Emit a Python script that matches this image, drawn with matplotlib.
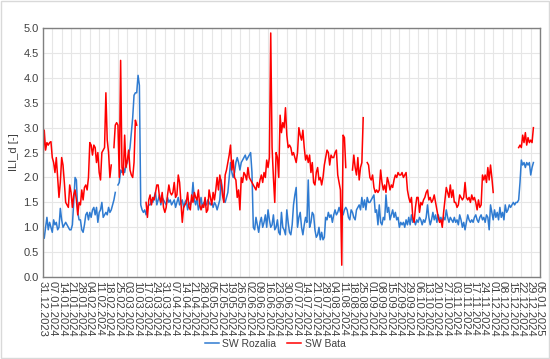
import numpy as np
import pandas as pd
import matplotlib
matplotlib.use("Agg")
import matplotlib.pyplot as plt
import matplotlib.dates as mdates
from matplotlib.patches import Rectangle

nan = np.nan

# daily ILI_d values from 31.12.2023, one row per week
rozalia = [
    0.88, 0.78, 1.0, 1.2, 0.95, 1.1, 1.0,
    0.9, 1.15, 1.05, 1.1, 0.95, 1.0, 1.38,
    1.15, 1.0, 1.05, 1.1, 1.05, 1.0, 0.95,
    0.95, 1.05, 1.5, 2.0, 1.95, 1.3, 1.15,
    1.15, 0.95, 0.9, 1.05, 1.25, 1.3, 1.15,
    1.3, 1.2, 1.35, 1.4, 1.25, 1.4, 1.1,
    1.3, 1.35, 1.5, 1.2, 1.25, 1.3, 1.25,
    1.4, 1.3, 1.35, 1.45, 1.55, 1.7, nan,
    1.85, 1.9, 2.15, 2.1, 2.2, 2.1, 2.25,
    2.3, 2.45, 2.6, 2.9, 3.2, 3.65, 3.7,
    3.7, 4.05, 3.85, 1.45, 1.35, 1.3, 1.35,
    1.25, 1.4, 1.45, 1.45, 1.55, 1.5, 1.6,
    1.7, 1.45, 1.55, 1.65, 1.45, 1.6, 1.55,
    1.5, 1.45, 1.6, 1.5, 1.55, 1.45, 1.5,
    1.55, 1.4, 1.5, 1.6, 1.45, 1.5, 1.55,
    1.4, 1.5, 1.55, 1.35, 1.5, 1.45, 1.55,
    1.9, 1.55, 1.45, 1.6, 1.35, 1.45, 1.6,
    1.4, 1.5, 1.45, 1.45, 1.55, 1.5, 1.45,
    1.5, 1.4, 1.5, 1.45, 1.35, 1.45, 1.55,
    1.95, 1.75, 1.55, 1.5, 1.6, 1.7, 2.0,
    2.3, 2.1, 2.0, 2.1, 2.3, 2.4, 2.3,
    2.15, 2.3, 2.35, 2.4, 2.45, 2.35, 2.4,
    2.45, 2.5, 2.1, 1.0, 0.95, 1.2, 1.05,
    0.9, 1.1, 1.2, 1.0, 1.1, 1.25, 1.0,
    1.35, 1.15, 1.0, 1.05, 1.25, 0.95, 1.0,
    1.15, 0.9, 0.85, 1.3, 1.0, 0.95, 0.85,
    1.35, 1.1, 0.9, 0.85, 1.05, 1.45, 1.65,
    1.8, 1.0, 1.2, 1.3, 1.0, 0.85, 1.05,
    1.2, 1.1, 1.95, 1.0, 1.1, 1.3, 1.25,
    0.95, 0.8, 0.85, 1.0, 0.75, 0.9, 0.75,
    0.8, 1.2, 1.15, 1.3, 1.2, 1.25, 1.1,
    1.25, 1.35, 1.25, 1.3, 1.4, 1.3, 1.35,
    1.25, 1.35, 1.4, 1.35, 1.2, 1.15, 1.35,
    1.3, 1.2, 1.15, 1.35, 1.4, 1.45, 1.35,
    1.6, 1.4, 1.55, 1.35, 1.6, 1.5, 1.5,
    1.55, 1.6, 1.65, 1.3, 1.35, 1.05, 1.45,
    1.1, 1.05, 1.2, 1.15, 1.65, 1.3, 1.4,
    1.15, 1.25, 1.35, 1.2, 1.3, 1.15, 1.2,
    1.0, 1.1, 1.05, 1.1, 1.0, 1.15, 1.05,
    1.2, 1.05, 1.25, 1.1, 1.15, 1.05, 1.15,
    1.1, 1.2, 1.15, 1.05, 1.15, 1.1, 1.2,
    1.45, 1.2, 1.05, 1.15, 1.3, 1.15, 1.25,
    1.1, 1.25, 1.15, 1.2, 1.1, 1.2, 1.15,
    1.35, 1.2, 1.1, 1.2, 1.15, 1.1, 1.2,
    1.1, 1.15, 1.05, 1.25, 1.15, 1.0, 1.1,
    0.95, 1.1, 1.25, 1.15, 1.1, 1.15, 1.1,
    1.2, 1.25, 1.15, 1.1, 1.2, 1.25, 1.15,
    1.2, 1.1, 1.25, 1.2, 0.95, 1.45, 1.3,
    1.15, 1.35, 1.2, 1.3, 1.15, 1.4, 1.2,
    1.3, 1.15, 1.45, 1.3, 1.35, 1.45, 1.4,
    1.45, 1.5, 1.45, 1.5, 1.5, 1.55, 1.9,
    2.35, 2.25, 2.3, 2.2, 2.3, 2.25, 2.3,
    2.05, 2.2, 2.3,
]

bata = [
    2.3, 2.95, 2.55, 2.7, 2.65, 2.7, 2.72,
    2.4, 2.3, 2.1, 2.4, 2.0, 1.6, 1.9,
    2.4, 2.25, 1.9, 1.5, 1.45, 1.4, 1.85,
    1.7, 1.4, 1.65, 1.75, 1.55, 1.25, 1.5,
    1.45, 1.75, 1.55, 1.8, 1.85, 1.75, 2.0,
    2.7, 2.65, 2.45, 2.65, 2.6, 2.3, 2.5,
    2.1, 1.95, 2.5, 2.55, 2.6, 3.7, 2.75,
    2.5, 2.0, 2.25, nan, 2.6, 3.05, 3.1,
    3.05, 2.0, 4.35, 2.2, 2.05, 2.85, 2.2,
    2.35, 2.55, 2.15, 2.05, 2.0, 2.3, 3.15,
    3.05, nan, nan, nan, nan, nan, nan,
    1.5, 1.2, 1.55, 1.65, 1.45, 1.6, 1.55,
    1.7, 1.85, 1.85, 1.6, 1.5, 1.7, 1.4,
    1.3, 1.4, 1.65, 1.85, 1.7, 1.65, 1.7,
    1.9, 1.6, 1.65, 2.05, 1.9, 1.5, 1.1,
    1.4, 1.45, 1.5, 1.7, 1.4, 1.35, 1.65,
    1.5, 1.7, 1.6, 1.55, 1.75, 1.45, 1.35,
    1.45, 1.4, 1.6, 1.3, 1.35, 1.75, 1.6,
    1.45, 1.7, 1.55, 1.75, 2.0, 1.75, 2.05,
    1.9, 1.65, 1.5, 2.05, 2.15, 2.3, 2.45,
    2.65, 2.15, 2.35, 2.0, 1.95, 1.6, 1.75,
    1.35, 2.0, 1.9, 2.1, 2.05, 1.95, 2.2,
    2.0, 1.95, 1.9, 1.85, 1.8, 1.75, 1.9,
    1.8, 1.95, 2.05, 1.9, 2.1, 2.0, 2.35,
    2.2, 2.4, 4.9, 2.6, 2.0, 1.5, 2.5,
    2.4, 2.0, 3.25, 2.9, 3.1, 3.0, 3.4,
    2.85, 2.6, 2.65, 2.6, 2.45, 2.5, 2.4,
    2.3, 2.5, 3.0, 2.85, 2.75, 2.95, 2.6,
    2.35, 2.45, 2.3, 2.45, 2.1, 2.3, 1.9,
    1.85, 2.1, 2.2, 1.95, 2.0, 1.85, 2.0,
    2.25, 2.4, 2.55, 2.5, 2.25, 2.45, 2.4,
    2.4, 2.5, 2.55, 2.05, 1.9, 1.75, 0.24,
    2.85, 2.8, 2.2, nan, nan, nan, nan,
    2.15, 2.45, 2.2, 2.05, 2.4, 1.95, 2.2,
    2.3, 3.2, nan, nan, 2.3, 2.25, 2.0,
    1.95, 2.05, 1.8, 1.7, 1.75, 1.7, 1.75,
    2.15, 1.9, 1.75, 1.85, 1.7, 2.0, 1.9,
    1.75, 1.85, 1.8, 1.95, 2.05, 2.0, 2.1,
    2.05, 2.05, 2.1, 2.0, 2.05, 2.1, 1.75,
    1.6, 1.5, 1.6, 1.2, 1.1, 1.4, 1.6,
    1.6, 1.3, 1.5, 1.45, 1.55, 1.6, 1.7,
    1.75, 1.55, 1.6, 1.5, 1.55, 1.65, 1.5,
    1.35, 1.2, 1.1, 1.15, 1.0, 1.3, 1.55,
    1.8, 1.7, 1.6, 1.85, 1.6, 1.75, 1.5,
    1.5, 1.4, 1.45, 1.65, 1.6, 1.55, 1.6,
    1.9, 1.6, 1.55, 1.6, 1.5, 1.65, 1.55,
    1.6, 1.5, 1.35, 1.55, 1.4, 1.45, 2.05,
    1.95, 2.05, 1.9, 2.2, 1.95, 2.25, 2.0,
    1.7, nan, nan, nan, nan, nan, nan,
    nan, nan, nan, nan, nan, nan, nan,
    nan, nan, nan, nan, nan, 2.6, 2.65,
    2.6, 2.85, 2.7, 2.9, 2.65, 2.8, 2.7,
    2.75, 2.7, 3.0,
]

start_date = "2023-12-31"
end_date = "2025-01-05"
series_names = ["SW Rozalia", "SW Bata"]

dates = pd.date_range(start_date, periods=len(rozalia), freq="D")

plt.rcParams["font.family"] = ["Liberation Sans", "DejaVu Sans"]
txt = "#404040"

fig = plt.figure(figsize=(5.5, 3.59), dpi=100)
ax = fig.add_axes([0.078, 0.228, 0.904, 0.694])

ax.plot(dates, rozalia, color="#2f7bd1", lw=1.1, label=series_names[0])
ax.plot(dates, bata, color="#ff0000", lw=1.1, label=series_names[1])

ax.set_xlim(pd.Timestamp(start_date), pd.Timestamp(end_date))
ax.set_ylim(0, 5.0)
ax.set_yticks(np.arange(0, 5.01, 0.5))
ax.yaxis.set_major_formatter(plt.FormatStrFormatter("%.1f"))

ax.xaxis.set_major_locator(mdates.WeekdayLocator(byweekday=mdates.SU))
ax.xaxis.set_major_formatter(mdates.DateFormatter("%d.%m.%Y"))
plt.setp(ax.get_xticklabels(), rotation=270, fontsize=8, color=txt, va="top")
plt.setp(ax.get_yticklabels(), fontsize=8, color=txt)
ax.tick_params(axis="both", length=0, pad=3)

ax.grid(True, color="#e6e6e6", lw=0.8)
ax.set_axisbelow(True)
for s in ax.spines.values():
    s.set_color("#808080")
    s.set_linewidth(1.0)

ax.set_ylabel("ILI_d [-]", fontsize=8, color=txt, labelpad=3)

fig.legend(loc="center", bbox_to_anchor=(0.5, 0.042), ncol=2, frameon=False,
           fontsize=7.5, handlelength=1.4, handletextpad=0.3, columnspacing=1.0,
           labelcolor=txt)

fig.patches.append(Rectangle((0.002, 0.003), 0.996, 0.994, transform=fig.transFigure,
                             fill=False, edgecolor="#d9d9d9", lw=1.0))

fig.savefig("out.png", dpi=100, facecolor="white")
